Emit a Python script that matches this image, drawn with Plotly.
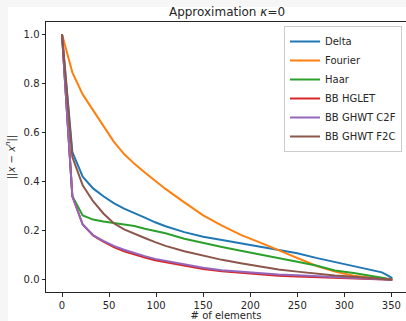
import plotly.graph_objects as go

n_elements = [0, 11, 22, 33, 44, 55, 66, 77, 88, 99, 110, 130, 150, 170, 190, 210,
              230, 250, 270, 290, 310, 330, 340, 345, 351]

delta = [1.0, 0.52, 0.42, 0.372, 0.34, 0.312, 0.29, 0.27, 0.253, 0.234, 0.218, 0.194,
         0.175, 0.162, 0.148, 0.135, 0.123, 0.108, 0.089, 0.072, 0.055, 0.04, 0.03, 0.02, 0.007]
fourier = [1.0, 0.845, 0.755, 0.69, 0.628, 0.563, 0.512, 0.472, 0.437, 0.402, 0.37, 0.315,
           0.262, 0.22, 0.183, 0.152, 0.12, 0.088, 0.057, 0.033, 0.016, 0.008, 0.004, 0.002, 0.0]
haar = [1.0, 0.34, 0.262, 0.245, 0.237, 0.231, 0.226, 0.219, 0.208, 0.198, 0.189, 0.167,
        0.149, 0.133, 0.118, 0.102, 0.087, 0.073, 0.058, 0.038, 0.027, 0.013, 0.007, 0.005, 0.003]
bb_hglet = [1.0, 0.34, 0.225, 0.18, 0.155, 0.133, 0.116, 0.102, 0.09, 0.079, 0.071, 0.056,
            0.044, 0.034, 0.027, 0.021, 0.016, 0.013, 0.01, 0.007, 0.005, 0.003, 0.002, 0.001, 0.0]
bb_ghwt_c2f = [1.0, 0.34, 0.225, 0.182, 0.158, 0.138, 0.122, 0.108, 0.096, 0.085, 0.077, 0.061,
               0.049, 0.039, 0.032, 0.026, 0.021, 0.018, 0.014, 0.011, 0.008, 0.005, 0.003, 0.002, 0.0]
bb_ghwt_f2c = [1.0, 0.50, 0.385, 0.32, 0.27, 0.23, 0.205, 0.186, 0.17, 0.153, 0.138, 0.116,
               0.098, 0.081, 0.067, 0.054, 0.042, 0.033, 0.024, 0.017, 0.012, 0.007, 0.004, 0.002, 0.0]

series = [
    ("Delta", delta, "#1f77b4"),
    ("Fourier", fourier, "#ff7f0e"),
    ("Haar", haar, "#2ca02c"),
    ("BB HGLET", bb_hglet, "#d62728"),
    ("BB GHWT C2F", bb_ghwt_c2f, "#9467bd"),
    ("BB GHWT F2C", bb_ghwt_f2c, "#8c564b"),
]

x_ticks = [0, 50, 100, 150, 200, 250, 300, 350]
y_ticks = [0.0, 0.2, 0.4, 0.6, 0.8, 1.0]

font = "DejaVu Sans"
fig = go.Figure()
for name, vals, col in series:
    fig.add_trace(go.Scatter(x=n_elements, y=vals, mode="lines", name=name,
                             line=dict(color=col, width=2)))

L, T, B = 46, 22, 29
W, H = 406, 321
pw = W - L
ph = H - T - B

fig.update_layout(
    width=W, height=H,
    margin=dict(l=L, r=0, t=T, b=B, autoexpand=False),
    paper_bgcolor="#f6f6f6",
    plot_bgcolor="white",
    font=dict(family=font, size=10, color="#262626"),
    title=dict(text="Approximation <i>κ</i>=0", x=227 / W, xanchor="center",
               y=1 - 12 / H, yanchor="middle", font=dict(size=12, family=font, color="#262626")),
    showlegend=True,
    legend=dict(x=(402 - L) / pw, xanchor="right", y=(292 - 26) / ph, yanchor="top",
                bgcolor="rgba(255,255,255,0.8)", bordercolor="#cccccc", borderwidth=1,
                font=dict(size=10, family=font, color="#262626"), tracegroupgap=0,
                itemwidth=30),
    shapes=[dict(type="rect", xref="paper", yref="paper", layer="below",
                 x0=(8 - L) / pw, x1=1.0, y0=(292 - 321) / ph - 0.01, y1=(292 - 7) / ph,
                 fillcolor="white", line=dict(width=0))],
)

fig.update_xaxes(
    range=[-17.0, -17.0 + pw / 0.941], tickvals=x_ticks, ticks="outside", ticklen=3.5,
    tickwidth=1, tickcolor="#262626", showgrid=False, zeroline=False,
    showline=True, linecolor="#262626", linewidth=1, mirror=True,
    title=dict(text="# of elements", standoff=1, font=dict(size=10, family=font)),
    automargin=False,
)
fig.update_yaxes(
    range=[-0.05, 1.05], tickvals=y_ticks, tickformat=".1f", ticks="outside", ticklen=3.5,
    tickwidth=1, tickcolor="#262626", showgrid=False, zeroline=False,
    showline=True, linecolor="#262626", linewidth=1, mirror=False,
    title=dict(text="||<i>x</i> − <i>x</i><sup><i>n</i></sup>||", standoff=6,
               font=dict(size=10, family=font)),
    automargin=False,
)

fig.write_html("out.html", config={"displayModeBar": False},
               post_script="document.body.style.margin='0';document.body.style.overflow='hidden';")
